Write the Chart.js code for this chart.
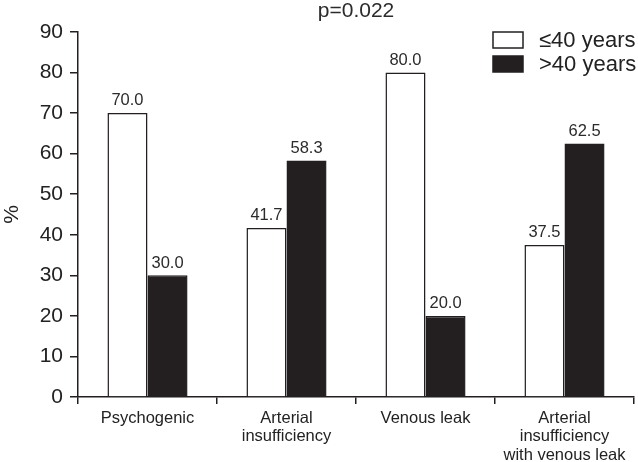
<!DOCTYPE html>
<html>
<head>
<meta charset="utf-8">
<script src="https://cdn.jsdelivr.net/npm/chart.js@4/dist/chart.umd.min.js"></script>
<style>
  html, body { margin: 0; padding: 0; background: #fff; }
  #wrap { width: 638px; height: 462px; }
</style>
</head>
<body>
<div id="wrap"><canvas id="chart" width="638" height="462"></canvas></div>
<script>
// Категории и значения серий
const categories = [
    ['Psychogenic'],
    ['Arterial', 'insufficiency'],
    ['Venous leak'],
    ['Arterial', 'insufficiency', 'with venous leak']
];
const youngValues = [70.0, 41.7, 80.0, 37.5];
const olderValues = [30.0, 58.3, 20.0, 62.5];
const seriesNames = ['\u226440 years', '>40 years'];
const titleText = 'p=0.022';

const inkColor = '#231f20';
const fontFamily = '"Liberation Sans", Arial, sans-serif';

// Подписи значений над столбцами, заголовок и легенда
const overlayPlugin = {
    id: 'overlay',
    afterDatasetsDraw(chart) {
        const ctx = chart.ctx;
        ctx.save();
        ctx.fillStyle = '#2b2b2b';
        ctx.font = '16.5px ' + fontFamily;
        ctx.textAlign = 'center';
        ctx.textBaseline = 'bottom';
        chart.data.datasets.forEach((ds, i) => {
            chart.getDatasetMeta(i).data.forEach((bar, j) => {
                ctx.fillText(ds.data[j].toFixed(1), bar.x, bar.y - 4);
            });
        });

        // заголовок
        const area = chart.chartArea;
        ctx.font = '21px ' + fontFamily;
        ctx.textBaseline = 'middle';
        ctx.fillText(titleText, (area.left + area.right) / 2, 11);

        // легенда
        ctx.font = '22px ' + fontFamily;
        ctx.textAlign = 'left';
        ctx.lineWidth = 1.5;
        ctx.strokeStyle = inkColor;
        const boxX = 493, boxW = 30, boxH = 16;
        const rows = [32, 56];
        chart.data.datasets.forEach((ds, i) => {
            ctx.fillStyle = ds.backgroundColor;
            ctx.fillRect(boxX, rows[i], boxW, boxH);
            ctx.strokeRect(boxX, rows[i], boxW, boxH);
            ctx.fillStyle = '#222';
            ctx.fillText(ds.label, 539, rows[i] + boxH / 2 + 1);
        });
        ctx.restore();
    }
};

const chart = new Chart(document.getElementById('chart'), {
    type: 'bar',
    data: {
        labels: categories,
        datasets: [
            {
                label: seriesNames[0],
                data: youngValues,
                backgroundColor: '#ffffff',
                borderColor: inkColor,
                borderWidth: 1.5
            },
            {
                label: seriesNames[1],
                data: olderValues,
                backgroundColor: inkColor,
                borderColor: inkColor,
                borderWidth: 1.5
            }
        ]
    },
    options: {
        responsive: false,
        animation: false,
        layout: { padding: { top: 32, right: 4, left: 0, bottom: 0 } },
        plugins: {
            legend: { display: false },
            tooltip: { enabled: false }
        },
        datasets: {
            bar: { categoryPercentage: 0.576, barPercentage: 1.0 }
        },
        scales: {
            x: {
                grid: {
                    offset: true,
                    drawOnChartArea: false,
                    drawTicks: true,
                    tickLength: 7,
                    color: inkColor,
                    lineWidth: 1.5
                },
                border: { color: inkColor, width: 1.5 },
                ticks: {
                    color: '#222',
                    padding: 5,
                    font: { family: fontFamily, size: 16.5, lineHeight: 1.12 },
                    maxRotation: 0,
                    autoSkip: false
                },
                afterFit(scale) { scale.height = 65; }
            },
            y: {
                min: 0,
                max: 90,
                ticks: {
                    stepSize: 10,
                    color: '#222',
                    padding: 7,
                    font: { family: fontFamily, size: 21 }
                },
                grid: {
                    drawOnChartArea: false,
                    drawTicks: true,
                    tickLength: 8,
                    color: inkColor,
                    lineWidth: 1.5
                },
                border: { color: inkColor, width: 1.5 },
                title: {
                    display: true,
                    text: '%',
                    color: '#222',
                    padding: 0,
                    font: { family: fontFamily, size: 21 }
                },
                afterFit(scale) { scale.width = 78; }
            }
        }
    },
    plugins: [overlayPlugin]
});
</script>
</body>
</html>
